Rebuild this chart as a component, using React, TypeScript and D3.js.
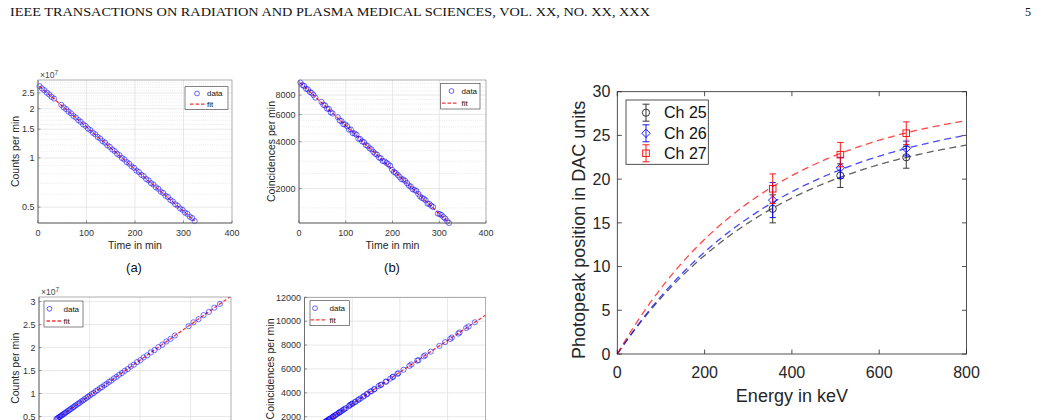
import React from 'react';
import * as d3 from 'd3';

// (a) singles rate vs. time, counts in units of 1e7
const timeA = [3, 8, 13, 18, 23, 28, 33, 48, 53, 58, 63, 68, 73, 78, 83, 88, 93, 98, 103, 108, 113, 118, 123, 128, 133, 138, 143, 148, 153, 158, 163, 168, 173, 178, 183, 188, 193, 198, 203, 208, 213, 218, 223, 228, 233, 238, 243, 248, 253, 258, 263, 268, 273, 278, 283, 288, 293, 298, 303, 308, 313, 318, 323];
const countsA = [2.752, 2.664, 2.597, 2.511, 2.447, 2.366, 2.309, 2.112, 2.038, 1.99, 1.921, 1.876, 1.809, 1.768, 1.705, 1.666, 1.607, 1.571, 1.514, 1.481, 1.428, 1.396, 1.345, 1.316, 1.268, 1.241, 1.195, 1.17, 1.127, 1.103, 1.061, 1.04, 1.0, 0.98, 0.943, 0.924, 0.888, 0.871, 0.837, 0.82, 0.789, 0.774, 0.744, 0.729, 0.701, 0.688, 0.661, 0.648, 0.623, 0.611, 0.587, 0.576, 0.553, 0.542, 0.521, 0.511, 0.491, 0.482, 0.463, 0.455, 0.437, 0.429, 0.411];

// (b) coincidence rate vs. time
const timeB = [3, 7, 11, 15, 19, 23, 27, 31, 35, 48, 52, 56, 60, 64, 68, 72, 83, 87, 91, 95, 99, 103, 107, 111, 115, 119, 123, 127, 131, 135, 139, 143, 147, 151, 155, 159, 163, 167, 171, 175, 179, 183, 187, 191, 195, 199, 203, 207, 211, 215, 219, 223, 227, 231, 235, 239, 243, 247, 251, 255, 259, 263, 267, 271, 275, 279, 283, 287, 297, 301, 305, 309, 313, 317, 321];
const coincB = [9620, 9280, 9150, 8790, 8700, 8380, 8260, 8010, 7700, 7230, 6930, 6850, 6540, 6500, 6190, 6080, 5760, 5480, 5430, 5190, 5170, 5040, 4790, 4800, 4550, 4520, 4440, 4190, 4170, 4020, 3980, 3810, 3760, 3630, 3580, 3440, 3350, 3300, 3170, 3130, 3010, 2990, 2930, 2870, 2800, 2640, 2560, 2520, 2450, 2380, 2300, 2290, 2240, 2170, 2090, 2060, 1980, 1960, 1930, 1850, 1780, 1740, 1720, 1680, 1600, 1590, 1550, 1520, 1380, 1370, 1350, 1310, 1280, 1230, 1200];

// (c) singles rate vs. activity
const activityC = [358.1, 347.0, 336.2, 325.7, 315.6, 305.7, 296.1, 268.9, 260.3, 252.1, 244.1, 236.2, 228.7, 221.3, 214.1, 207.2, 200.5, 194.1, 187.7, 181.5, 175.6, 169.8, 164.1, 158.7, 153.5, 148.3, 143.3, 138.5, 133.7, 129.2, 124.8, 120.4, 116.1, 112.1, 108.3, 104.4, 100.6, 97.0, 93.5, 90.1, 87.0, 83.7, 80.5, 77.5, 74.5, 71.8, 69.0, 66.3, 63.8, 61.1, 58.8, 56.3, 54.0, 51.7, 49.6, 47.4, 45.5, 43.4, 41.5, 39.7, 37.9, 36.0, 34.2];
const countsC = [2.95, 2.868, 2.776, 2.705, 2.617, 2.549, 2.466, 2.262, 2.189, 2.133, 2.063, 2.01, 1.944, 1.895, 1.831, 1.786, 1.726, 1.684, 1.627, 1.587, 1.533, 1.495, 1.445, 1.409, 1.363, 1.329, 1.284, 1.253, 1.21, 1.181, 1.141, 1.113, 1.075, 1.049, 1.013, 0.989, 0.955, 0.931, 0.9, 0.877, 0.849, 0.828, 0.799, 0.78, 0.753, 0.736, 0.71, 0.693, 0.67, 0.653, 0.631, 0.616, 0.594, 0.58, 0.56, 0.547, 0.528, 0.516, 0.497, 0.487, 0.469, 0.459, 0.441];

// (d) coincidence rate vs. activity
const activityD = [357.3, 344.1, 339.0, 325.1, 322.6, 309.2, 305.6, 294.8, 282.8, 264.6, 253.0, 249.9, 238.9, 236.3, 224.3, 220.1, 207.7, 196.8, 194.9, 185.6, 184.8, 179.8, 170.1, 171.5, 160.8, 159.6, 155.5, 146.8, 146.1, 140.3, 137.7, 132.1, 130.2, 125.1, 123.2, 117.8, 114.3, 112.3, 107.3, 105.8, 101.1, 99.3, 97.0, 94.7, 93.0, 86.8, 83.7, 82.1, 79.4, 76.7, 73.6, 73.2, 71.3, 68.5, 65.5, 64.3, 61.2, 60.4, 59.3, 56.2, 53.4, 51.9, 51.1, 49.5, 46.5, 46.1, 44.5, 43.4, 37.9, 37.5, 36.8, 35.2, 34.0, 32.1, 31.0];
const coincD = [9909, 9558, 9425, 9054, 8961, 8631, 8508, 8250, 7931, 7447, 7138, 7056, 6736, 6695, 6376, 6262, 5933, 5644, 5593, 5346, 5325, 5191, 4934, 4944, 4687, 4656, 4573, 4316, 4295, 4141, 4099, 3924, 3873, 3739, 3687, 3543, 3451, 3399, 3265, 3224, 3100, 3080, 3018, 2956, 2884, 2719, 2637, 2596, 2524, 2451, 2369, 2359, 2307, 2235, 2153, 2122, 2039, 2019, 1988, 1906, 1833, 1792, 1772, 1730, 1648, 1638, 1597, 1566, 1421, 1411, 1391, 1349, 1318, 1267, 1236];

// fit results for the four small panels
const decayFitA = { a0: 2.75, t0: 3, lambda: 0.00593 };
const decayFitB = { a0: 9600, t0: 3, lambda: 0.00654 };
const linFitC = { b0: 0.178, b1: 0.00774 };
const linFitD = { b0: 413, b1: 26.58 };

// photopeak calibration
const energies = [356, 511, 662];
const channelNames = ['Ch 25', 'Ch 26', 'Ch 27'];
const peak25 = [16.6, 20.4, 22.5];
const peak26 = [17.6, 21.3, 23.5];
const peak27 = [18.9, 22.8, 25.25];
const err25 = [1.6, 1.35, 1.25];
const err26 = [2.0, 1.2, 0.85];
const err27 = [1.7, 1.4, 1.3];
// saturation model: y = amp * (1 - exp(-E / scale))
const fitAmp = [27, 28.5, 29.5];
const fitScale = [370, 380, 340];

const xTicksTime = [0, 100, 200, 300, 400];
const yTicksA = [0.5, 1, 1.5, 2, 2.5];
const yTicksB = [2000, 4000, 6000, 8000];
const yTicksC = [0.5, 1, 1.5, 2, 2.5, 3];
const yTicksD = [2000, 4000, 6000, 8000, 10000, 12000];
const xTicksEnergy = [0, 200, 400, 600, 800];
const yTicksEnergy = [0, 5, 10, 15, 20, 25, 30];

const SANS = 'Liberation Sans, Arial, sans-serif';
const SERIF = 'Liberation Serif, Times New Roman, serif';
const AX = '#262626';

interface LegendBox {
  x: number; y: number; w: number; h: number;
  cx: number; l0: number; l1: number; tx: number;
}

interface SmallPanelProps {
  id: string;
  x: d3.ScaleLinear<number, number>;
  y: any;
  xTicks: number[];
  yTicks: number[];
  minorY: number[];
  vGrid: number[];
  xs: number[];
  ys: number[];
  fitX: number[];
  fitY: number[];
  yLabel: string;
  yLabelX: number;
  xLabel?: string;
  exponent?: boolean;
  legend: LegendBox;
}

const SmallPanel: React.FC<SmallPanelProps> = (p) => {
  const [xl, xr] = p.x.range();
  const [yb, yt] = p.y.range();
  const fitPath = d3.line<number>()
    .x((_, i) => p.x(p.fitX[i]))
    .y(d => p.y(d))(p.fitY) || '';
  const lg = p.legend;
  const row1 = lg.y + lg.h * 0.3;
  const row2 = lg.y + lg.h * 0.77;
  const showXLabels = p.xLabel !== undefined;

  return (
    <g>
      <defs>
        <clipPath id={p.id}>
          <rect x={xl} y={yt} width={xr - xl} height={yb - yt} />
        </clipPath>
      </defs>
      <rect x={xl} y={yt} width={xr - xl} height={yb - yt} fill="#fff" />
      {/* grid */}
      {p.minorY.map(v => (
        <line key={'m' + v} x1={xl} x2={xr} y1={p.y(v)} y2={p.y(v)}
          stroke="#d4d4d4" strokeWidth={0.5} strokeDasharray="1,1.2" />
      ))}
      {p.yTicks.map(v => (
        <line key={'g' + v} x1={xl} x2={xr} y1={p.y(v)} y2={p.y(v)}
          stroke="#dedede" strokeWidth={0.7} />
      ))}
      {p.vGrid.map(v => (
        <line key={'v' + v} x1={p.x(v)} x2={p.x(v)} y1={yt} y2={yb}
          stroke="#dedede" strokeWidth={0.7} />
      ))}
      {/* fit and data */}
      <path d={fitPath} clipPath={`url(#${p.id})`} fill="none" stroke="#ff0000"
        strokeOpacity={0.8} strokeWidth={1.3} strokeDasharray="3.5,2" />
      {p.xs.map((v, i) => (
        <circle key={i} cx={p.x(v)} cy={p.y(p.ys[i])} r={2.6}
          fill="none" stroke="#0000ff" strokeOpacity={0.7} strokeWidth={0.8} />
      ))}
      {/* axes box and ticks */}
      <rect x={xl} y={yt} width={xr - xl} height={yb - yt} fill="none" stroke="#8a8a8a" strokeWidth={0.7} />
      <line x1={xl} x2={xl} y1={yt} y2={yb} stroke="#555" strokeWidth={0.7} />
      <line x1={xl} x2={xr} y1={yb} y2={yb} stroke="#555" strokeWidth={0.7} />
      {p.yTicks.map(v => (
        <g key={'t' + v}>
          <line x1={xl} x2={xl + 2.5} y1={p.y(v)} y2={p.y(v)} stroke="#555" strokeWidth={0.6} />
          <text x={xl - 3.5} y={p.y(v) + 3.2} textAnchor="end" fontSize={9} fill="#333" fontFamily={SANS}>
            {String(v)}
          </text>
        </g>
      ))}
      {p.xTicks.map(v => (
        <g key={'x' + v}>
          <line x1={p.x(v)} x2={p.x(v)} y1={yb} y2={yb - 2.5} stroke="#555" strokeWidth={0.6} />
          {showXLabels && (
            <text x={p.x(v)} y={yb + 13.3} textAnchor="middle" fontSize={9} fill="#333" fontFamily={SANS}>
              {String(v)}
            </text>
          )}
        </g>
      ))}
      {p.exponent && (
        <text x={xl + 2} y={yt - 1.8} fontSize={8.5} fill="#444" fontFamily={SANS}>
          ×10<tspan dy={-3.5} fontSize={6.5}>7</tspan>
        </text>
      )}
      {showXLabels && (
        <text x={(xl + xr) / 2} y={yb + 25.8} textAnchor="middle" fontSize={10.5} fill={AX} fontFamily={SANS}>
          {p.xLabel}
        </text>
      )}
      <text transform={`translate(${p.yLabelX},${(yt + yb) / 2}) rotate(-90)`}
        textAnchor="middle" fontSize={10.5} fill={AX} fontFamily={SANS}>
        {p.yLabel}
      </text>
      {/* legend */}
      <rect x={lg.x} y={lg.y} width={lg.w} height={lg.h} fill="#fff" stroke="#333" strokeWidth={0.6} />
      <circle cx={lg.cx} cy={row1} r={2.4} fill="none" stroke="#0000ff" strokeOpacity={0.75} strokeWidth={0.8} />
      <text x={lg.tx} y={row1 + 2.8} fontSize={8} fill="#111" fontFamily={SANS}>data</text>
      <line x1={lg.l0} x2={lg.l1} y1={row2} y2={row2} stroke="#ff0000" strokeOpacity={0.8}
        strokeWidth={1.3} strokeDasharray="3.5,2" />
      <text x={lg.tx} y={row2 + 2.8} fontSize={8} fill="#111" fontFamily={SANS}>fit</text>
    </g>
  );
};

const diamond = (cx: number, cy: number, r: number) =>
  `M${cx},${cy - r}L${cx + r},${cy}L${cx},${cy + r}L${cx - r},${cy}Z`;

const Marker: React.FC<{ kind: number; cx: number; cy: number; color: string }> = ({ kind, cx, cy, color }) => {
  if (kind === 0) return <circle cx={cx} cy={cy} r={3.6} fill="none" stroke={color} strokeWidth={0.9} />;
  if (kind === 1) return <path d={diamond(cx, cy, 4.2)} fill="none" stroke={color} strokeWidth={0.9} />;
  return <rect x={cx - 3.3} y={cy - 3.3} width={6.6} height={6.6} fill="none" stroke={color} strokeWidth={0.9} />;
};

const CalibrationChart: React.FC = () => {
  const x = d3.scaleLinear().domain([0, 800]).range([617.3, 966.5]);
  const y = d3.scaleLinear().domain([0, 30]).range([354, 91.7]);
  const [xl, xr] = x.range();
  const [yb, yt] = y.range();
  const colors = ['#222222', '#0000ff', '#ff0000'];
  const peaks = [peak25, peak26, peak27];
  const errs = [err25, err26, err27];
  const samples = d3.range(0, 801, 5);

  const curve = (k: number) =>
    d3.line<number>()
      .x(e => x(e))
      .y(e => y(fitAmp[k] * (1 - Math.exp(-e / fitScale[k]))))(samples) || '';

  const legendRows = [112.7, 133.3, 153.3];

  return (
    <g>
      {[0, 1, 2].map(k => (
        <path key={'f' + k} d={curve(k)} fill="none" stroke={colors[k]} strokeOpacity={0.72}
          strokeWidth={1.3} strokeDasharray="7,4.5" />
      ))}
      {[0, 1, 2].map(k => (
        <g key={'d' + k}>
          {energies.map((e, i) => {
            const cx = x(e);
            const lo = y(peaks[k][i] - errs[k][i]);
            const hi = y(peaks[k][i] + errs[k][i]);
            return (
              <g key={i} stroke={colors[k]} strokeWidth={0.9}>
                <line x1={cx} x2={cx} y1={lo} y2={hi} />
                <line x1={cx - 3.2} x2={cx + 3.2} y1={lo} y2={lo} />
                <line x1={cx - 3.2} x2={cx + 3.2} y1={hi} y2={hi} />
                <Marker kind={k} cx={cx} cy={y(peaks[k][i])} color={colors[k]} />
              </g>
            );
          })}
        </g>
      ))}
      {/* axes */}
      <rect x={xl} y={yt} width={xr - xl} height={yb - yt} fill="none" stroke={AX} strokeWidth={0.8} />
      {xTicksEnergy.map(v => (
        <g key={'x' + v}>
          <line x1={x(v)} x2={x(v)} y1={yb} y2={yb - 4.5} stroke={AX} strokeWidth={0.8} />
          <line x1={x(v)} x2={x(v)} y1={yt} y2={yt + 4.5} stroke={AX} strokeWidth={0.8} />
          <text x={x(v)} y={yb + 23.5} textAnchor="middle" fontSize={16} fill={AX} fontFamily={SANS}>{v}</text>
        </g>
      ))}
      {yTicksEnergy.map(v => (
        <g key={'y' + v}>
          <line x1={xl} x2={xl + 4.5} y1={y(v)} y2={y(v)} stroke={AX} strokeWidth={0.8} />
          <line x1={xr} x2={xr - 4.5} y1={y(v)} y2={y(v)} stroke={AX} strokeWidth={0.8} />
          <text x={xl - 7} y={y(v) + 5.7} textAnchor="end" fontSize={16} fill={AX} fontFamily={SANS}>{v}</text>
        </g>
      ))}
      <text x={(xl + xr) / 2} y={401.5} textAnchor="middle" fontSize={18} fill={AX} fontFamily={SANS}>
        Energy in keV
      </text>
      <text transform={`translate(584.5,${(yt + yb) / 2 + 7}) rotate(-90)`} textAnchor="middle"
        fontSize={18} fill={AX} fontFamily={SANS}>
        Photopeak position in DAC units
      </text>
      {/* legend */}
      <rect x={626} y={100} width={82.3} height={64.3} fill="#fff" stroke={AX} strokeWidth={0.8} />
      {channelNames.map((name, k) => (
        <g key={name}>
          <g stroke={colors[k]} strokeWidth={0.9}>
            <line x1={646} x2={646} y1={legendRows[k] - 8.5} y2={legendRows[k] + 8.5} />
            <line x1={642.5} x2={649.5} y1={legendRows[k] - 8.5} y2={legendRows[k] - 8.5} />
            <line x1={642.5} x2={649.5} y1={legendRows[k] + 8.5} y2={legendRows[k] + 8.5} />
          </g>
          <Marker kind={k} cx={646} cy={legendRows[k]} color={colors[k]} />
          <text x={664} y={legendRows[k] + 5.7} fontSize={16} fill="#111" fontFamily={SANS}>{name}</text>
        </g>
      ))}
    </g>
  );
};

const App: React.FC = () => {
  const xA = d3.scaleLinear().domain([0, 400]).range([38, 232]);
  const yA = d3.scaleLog().domain([0.4, 3.0]).range([223, 80]);
  const xB = d3.scaleLinear().domain([0, 400]).range([299, 486]);
  const yB = d3.scaleLog().domain([1200, 10000]).range([223, 80]);
  const xC = d3.scaleLinear().domain([0, 380]).range([39, 231]);
  const yC = d3.scaleLinear().domain([0, 3.1]).range([439.5, 297]);
  const xD = d3.scaleLinear().domain([0, 380]).range([304.5, 485.7]);
  const yD = d3.scaleLinear().domain([0, 12000]).range([440.6, 297.3]);

  const minorA = d3.range(4, 30).map(v => v / 10).filter(v => !yTicksA.includes(v));
  const minorB = d3.range(1500, 10000, 500).filter(v => !yTicksB.includes(v));

  const lastA = timeA[timeA.length - 1];
  const lastB = timeB[timeB.length - 1];
  const decay = (f: { a0: number; t0: number; lambda: number }, t: number) =>
    f.a0 * Math.exp(-f.lambda * (t - f.t0));

  return (
    <div>
      <style>{'body{margin:0}'}</style>
      <svg width={1041} height={420} style={{ display: 'block', background: '#fff' }}>
        <text x={10} y={16} fontSize={12} fill="#111" fontFamily={SERIF}
          textLength={640} lengthAdjust="spacingAndGlyphs">
          IEEE TRANSACTIONS ON RADIATION AND PLASMA MEDICAL SCIENCES, VOL. XX, NO. XX, XXX
        </text>
        <text x={1031} y={16} textAnchor="end" fontSize={12} fill="#111" fontFamily={SERIF}>5</text>

        <SmallPanel id="clipA" x={xA} y={yA} xTicks={xTicksTime} yTicks={yTicksA} minorY={minorA}
          vGrid={[100, 200, 300]} xs={timeA} ys={countsA}
          fitX={[timeA[0], lastA]} fitY={[decay(decayFitA, timeA[0]), decay(decayFitA, lastA)]}
          yLabel="Counts per min" yLabelX={19} xLabel="Time in min" exponent
          legend={{ x: 185, y: 86.7, w: 43, h: 22.6, cx: 197, l0: 190, l1: 205, tx: 207 }} />
        <SmallPanel id="clipB" x={xB} y={yB} xTicks={xTicksTime} yTicks={yTicksB} minorY={minorB}
          vGrid={[100, 200, 300]} xs={timeB} ys={coincB}
          fitX={[timeB[0], lastB]} fitY={[decay(decayFitB, timeB[0]), decay(decayFitB, lastB)]}
          yLabel="Coincidences per min" yLabelX={274.5} xLabel="Time in min"
          legend={{ x: 440.7, y: 83.3, w: 39.3, h: 25.7, cx: 451.5, l0: 442, l1: 458, tx: 461.5 }} />
        <SmallPanel id="clipC" x={xC} y={yC} xTicks={[0, 100, 200, 300]} yTicks={yTicksC} minorY={[]}
          vGrid={[100, 200, 300]} xs={activityC} ys={countsC}
          fitX={[0, 380]} fitY={[linFitC.b0, linFitC.b0 + linFitC.b1 * 380]}
          yLabel="Counts per min" yLabelX={19} exponent
          legend={{ x: 44, y: 301, w: 39, h: 26, cx: 49.5, l0: 46.5, l1: 62, tx: 63.5 }} />
        <SmallPanel id="clipD" x={xD} y={yD} xTicks={[0, 100, 200, 300]} yTicks={yTicksD} minorY={[]}
          vGrid={[100, 200, 300]} xs={activityD} ys={coincD}
          fitX={[0, 380]} fitY={[linFitD.b0, linFitD.b0 + linFitD.b1 * 380]}
          yLabel="Coincidences per min" yLabelX={274}
          legend={{ x: 310, y: 300.7, w: 39.3, h: 25, cx: 315, l0: 310.5, l1: 327, tx: 329.5 }} />

        <text x={134} y={272} textAnchor="middle" fontSize={13} fill="#111" fontFamily={SANS}>(a)</text>
        <text x={392} y={272} textAnchor="middle" fontSize={13} fill="#111" fontFamily={SANS}>(b)</text>

        <CalibrationChart />
      </svg>
    </div>
  );
};

export default App;
